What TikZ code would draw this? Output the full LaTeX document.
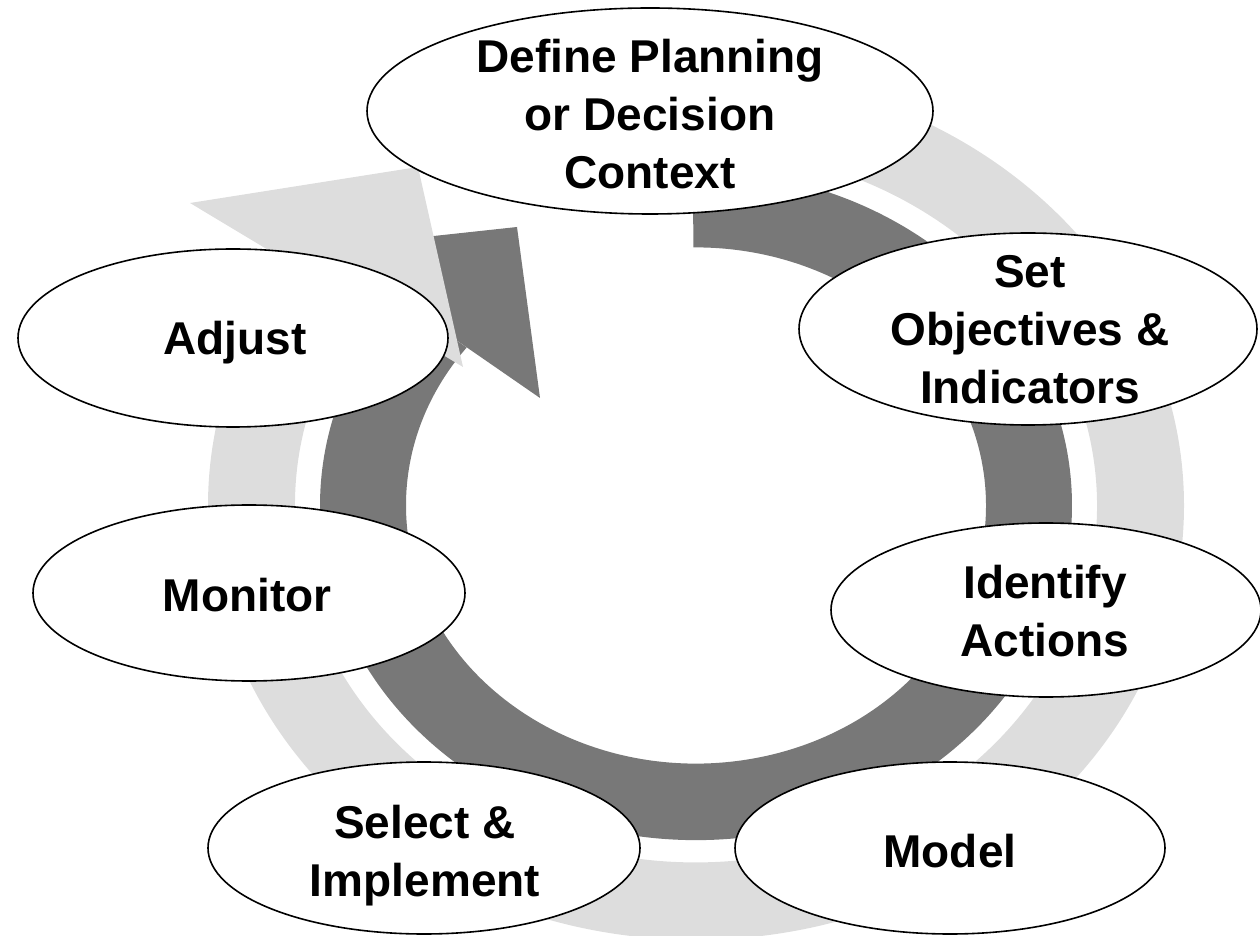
\documentclass[tikz,border=0pt]{standalone}
\usepackage{fontspec}
\setmainfont{Liberation Sans}
\usetikzlibrary{shapes.geometric}
\definecolor{ringdark}{RGB}{120,120,120}
\definecolor{ringlight}{RGB}{221,221,221}
\begin{document}
\begin{tikzpicture}[x=1pt,y=1pt,
  bubble/.style={ellipse, draw=black, line width=1.6pt, fill=white, inner sep=0pt},
  lbl/.style={font=\fontsize{46}{58}\selectfont\bfseries, align=center, inner sep=0pt, anchor=center}]
\useasboundingbox (0,0) rectangle (1260,935);
% dark circular arrow
\begin{scope}[shift={(696,429.5)}, yscale=0.89]
  \fill[ringdark] (90.5:376) arc[start angle=90.5, end angle=-217.75, radius=376]
    -- (-217.75:290) arc[start angle=-217.75, end angle=90.5, radius=290] -- cycle;
\end{scope}
\fill[ringdark] (517,708) -- (540,537) -- (323,687) -- cycle;
% light circular arrow
\begin{scope}[shift={(696,429.5)}, yscale=0.89]
  \fill[ringlight] (90:488) arc[start angle=90, end angle=-214, radius=488]
    -- (-214:401) arc[start angle=-214, end angle=90, radius=401] -- cycle;
\end{scope}
\fill[ringlight] (418,768) -- (463,568) -- (190,732) -- cycle;
% ellipses
\node[bubble, minimum width=566, minimum height=206] (define) at (650,824) {};
\node[bubble, minimum width=458, minimum height=192] (setobj) at (1028,606) {};
\node[bubble, minimum width=430, minimum height=174] (identify) at (1046,325) {};
\node[bubble, minimum width=430, minimum height=172] (model) at (950,87) {};
\node[bubble, minimum width=432, minimum height=172] (select) at (424,87) {};
\node[bubble, minimum width=432, minimum height=176] (monitor) at (249,342) {};
\node[bubble, minimum width=430, minimum height=178] (adjust) at (233,597) {};
% labels
\node[lbl] (definet) at (650,821) {Define Planning\\or Decision\\Context};
\node[lbl] (setobjt) at (1030,605) {Set\\Objectives \&\\Indicators};
\node[lbl] (identifyt) at (1045,324) {Identify\\Actions};
\node[lbl] (modelt) at (950,83.5) {Model};
\node[lbl] (selectt) at (425,79) {Select \&\\Implement};
\node[lbl] (monitort) at (247,339.5) {Monitor};
\node[lbl] (adjustt) at (235,592) {Adjust};
\end{tikzpicture}
\end{document}
